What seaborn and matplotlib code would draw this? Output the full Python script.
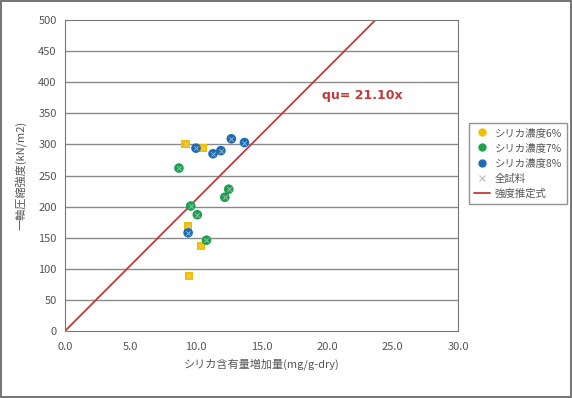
import numpy as np
import pandas as pd
import seaborn as sns
import matplotlib
matplotlib.use("Agg")
import matplotlib.pyplot as plt
from matplotlib.lines import Line2D

# シリカ濃度6%
x6 = [9.2, 10.5, 9.4, 10.4, 9.5]
y6 = [300, 294, 169, 136, 88]
# シリカ濃度7%
x7 = [8.7, 9.6, 10.1, 10.8, 12.5, 12.2]
y7 = [262, 201, 187, 146, 228, 215]
# シリカ濃度8%
x8 = [10.0, 12.7, 13.7, 11.3, 11.9, 9.4]
y8 = [294, 309, 303, 285, 290, 158]

slope = 21.10
labels = ['シリカ濃度6%', 'シリカ濃度7%', 'シリカ濃度8%', '全試料', '強度推定式']
colors = ['#F2BE00', '#1FA050', '#1E6DB4']

sns.set_style('white')
plt.rcParams['font.family'] = ['Noto Sans CJK JP', 'DejaVu Sans']

df = pd.DataFrame({
    'x': x6 + x7 + x8,
    'y': y6 + y7 + y8,
    'grp': [labels[0]] * len(x6) + [labels[1]] * len(x7) + [labels[2]] * len(x8),
})

fig = plt.figure(figsize=(5.72, 3.98), dpi=100)
fig.patch.set_edgecolor('#777777')
fig.patch.set_linewidth(1.5)
ax = fig.add_axes([0.1136, 0.1683, 0.6871, 0.7814])

for y in range(50, 500, 50):
    ax.axhline(y, color='#8a8a8a', lw=1, zorder=0)

sns.scatterplot(data=df[df.grp == labels[0]], x='x', y='y', color=colors[0], marker='s',
                s=34, edgecolor='none', ax=ax, zorder=3, legend=False)
sns.scatterplot(data=df[df.grp != labels[0]], x='x', y='y', hue='grp',
                palette=colors[1:], s=48, edgecolor='none', ax=ax, zorder=3, legend=False)
sns.scatterplot(data=df, x='x', y='y', color='#d8d8d8', marker='x', s=10, linewidth=0.6,
                alpha=0.7, ax=ax, zorder=4, legend=False)

xs = np.array([0, 500 / slope])
sns.lineplot(x=xs, y=slope * xs, color='#C0393B', lw=1.3, ax=ax, zorder=2)
ax.text(19.6, 379, 'qu= 21.10x', color='#C0393B', fontsize=9, fontweight='bold',
        va='center', family=['DejaVu Sans'])

ax.set_xlim(0, 30)
ax.set_ylim(0, 500)
ax.set_xticks(np.arange(0, 30.1, 5))
ax.set_xticklabels([f'{v:.1f}' for v in np.arange(0, 30.1, 5)])
ax.set_yticks(range(0, 501, 50))
ax.tick_params(labelsize=8, colors='#555555', length=3)
ax.tick_params(axis='x', direction='in', pad=8)
ax.tick_params(axis='y', direction='out', pad=3)
for sp in ax.spines.values():
    sp.set_color('#777777')
ax.set_xlabel('シリカ含有量増加量(mg/g-dry)', fontsize=8, color='#555555', labelpad=4)
ax.set_ylabel('一軸圧縮強度(kN/m2)', fontsize=8, color='#555555', labelpad=8)

handles = [
    Line2D([], [], marker='o', ls='', color=colors[0], markersize=5),
    Line2D([], [], marker='o', ls='', color=colors[1], markersize=5),
    Line2D([], [], marker='o', ls='', color=colors[2], markersize=5),
    Line2D([], [], marker='x', ls='', color='#c8c8c8', markersize=4),
    Line2D([], [], color='#C0393B', lw=1.3),
]
leg = fig.legend(handles, labels, loc='upper left', bbox_to_anchor=(0.81, 0.705),
                 fontsize=7.5, frameon=True, fancybox=False, edgecolor='#777777',
                 handlelength=1.6, handletextpad=0.4, borderpad=0.5, labelspacing=0.5)
for t in leg.get_texts():
    t.set_color('#555555')

fig.savefig('out.png', dpi=100)
